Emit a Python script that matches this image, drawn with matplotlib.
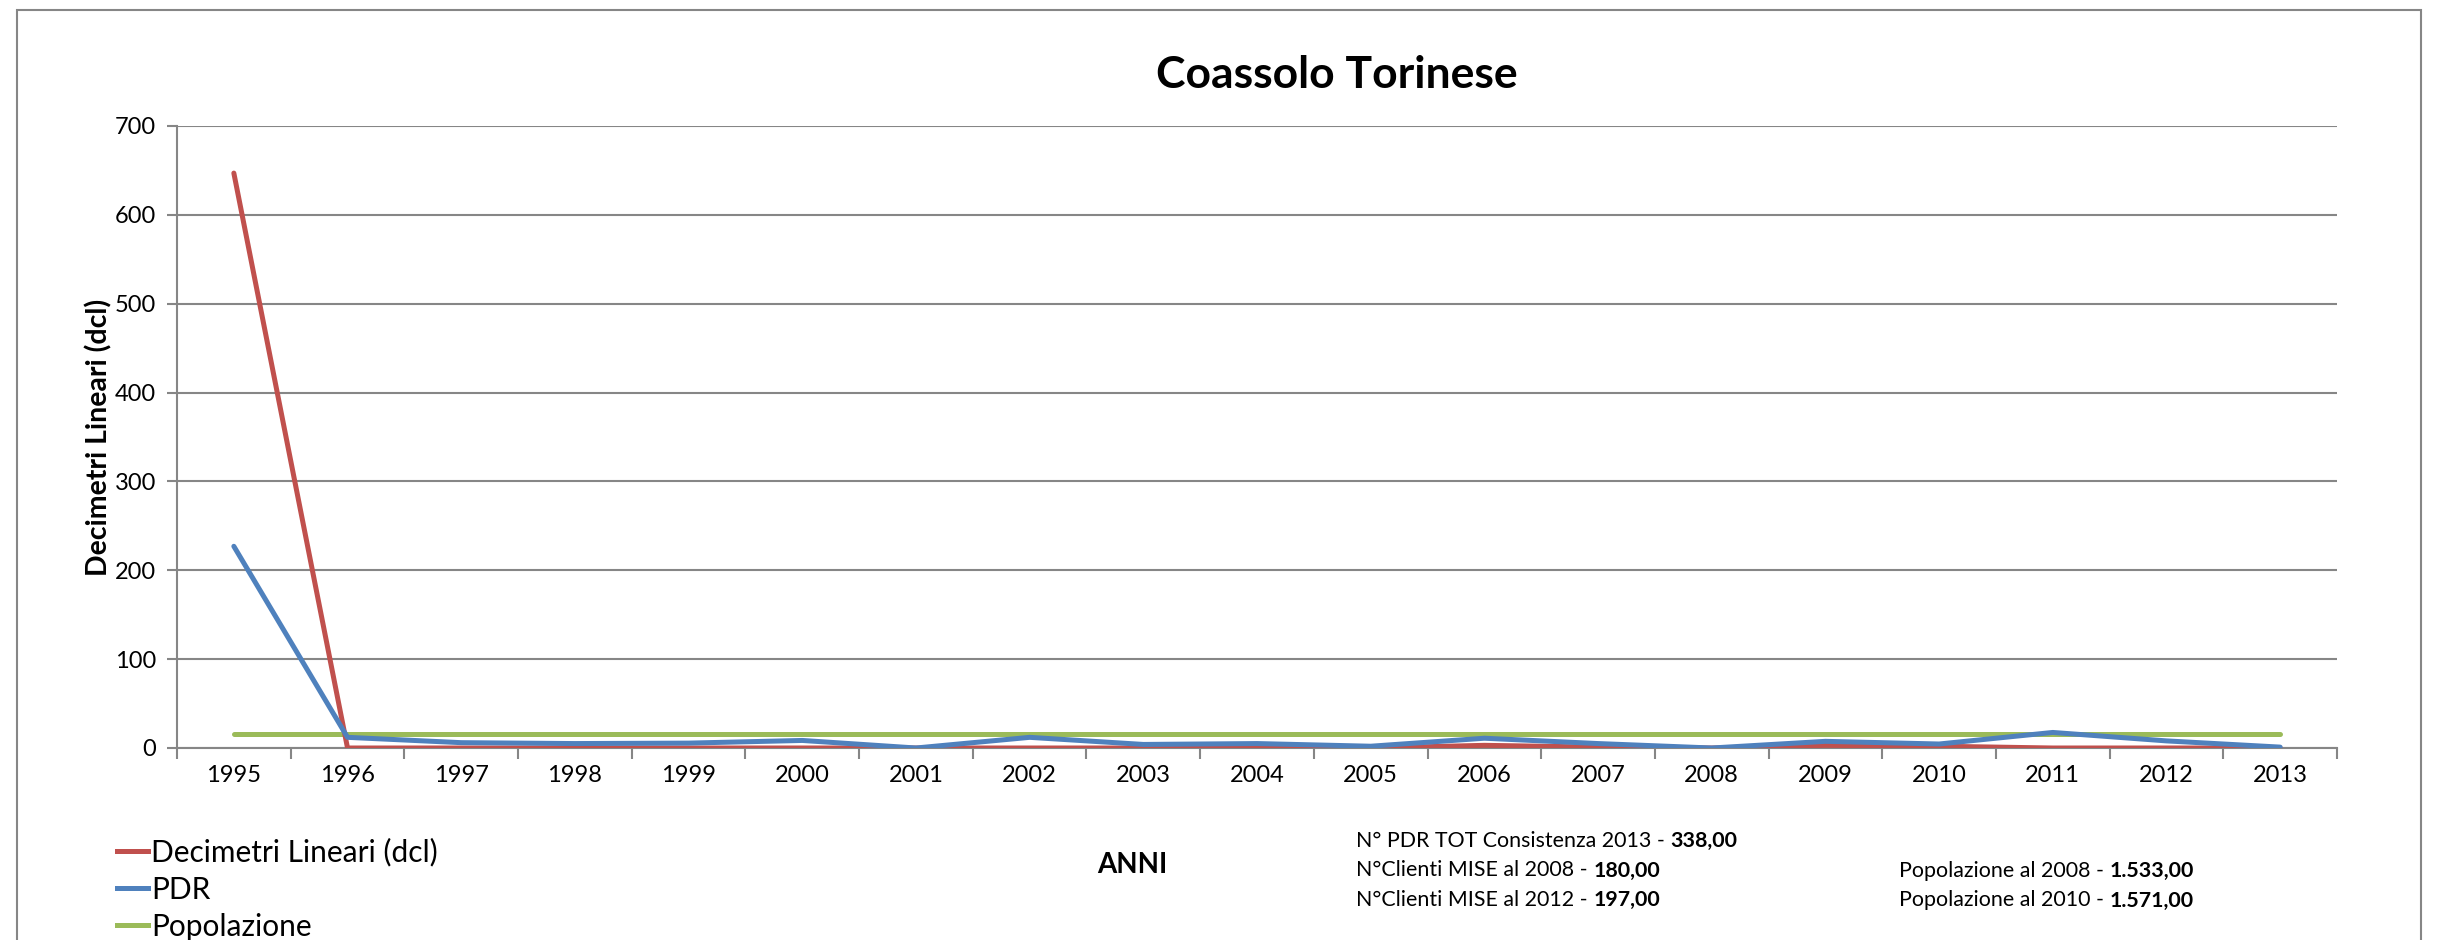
import matplotlib.pyplot as plt
from matplotlib.lines import Line2D
from matplotlib.patches import Rectangle

plt.rcParams['font.family'] = ['Lato', 'DejaVu Sans']

years = [str(y) for y in range(1995, 2014)]
decimetri = [647, 0, 0, 0, 0, 0, 0, 0, 0, 1, 0, 3, 1, 0, 3, 2, 0, 0, 0]
pdr = [227, 12, 6, 5, 5.5, 8.5, 0, 12, 4, 5, 2, 11, 5, 0, 7.5, 4.5, 17.5, 8, 1]
popolazione = [15.4] * 19

info_left = [("N° PDR TOT Consistenza 2013 - ", "338,00"),
             ("N°Clienti MISE al 2008 - ", "180,00"),
             ("N°Clienti MISE al 2012 - ", "197,00")]
info_right = [("Popolazione al 2008 - ", "1.533,00"),
              ("Popolazione al 2010 - ", "1.571,00")]

red = '#C0504D'
blue = '#4F81BD'
green = '#9BBB59'
grey = '#868686'

fig = plt.figure(figsize=(24.38, 9.40), dpi=100)
fig.patches.append(Rectangle((17 / 2438, -0.1), (2421 - 17) / 2438, 1.1 - 10 / 940,
                             transform=fig.transFigure, fill=False,
                             edgecolor=grey, linewidth=1.5))

ax = fig.add_axes([177 / 2438, 1 - 748 / 940, (2337 - 177) / 2438, (748 - 126) / 940])
x = range(len(years))
ax.plot(x, decimetri, color=red, lw=3.6, solid_capstyle='round', zorder=3)
ax.plot(x, pdr, color=blue, lw=3.6, solid_capstyle='round', solid_joinstyle='round', zorder=4)
ax.plot(x, popolazione, color=green, lw=3.6, solid_capstyle='round', zorder=2)

ax.set_xlim(-0.5, len(years) - 0.5)
ax.set_ylim(0, 700)
ax.set_yticks(range(0, 701, 100))
ax.set_xticks(list(x))
ax.set_xticklabels(years)
ax.set_xticks([i - 0.5 for i in range(len(years) + 1)], minor=True)
ax.tick_params(axis='x', which='major', length=0, labelsize=17, pad=12)
ax.tick_params(axis='x', which='minor', length=8, width=1.5, color=grey, direction='out')
ax.tick_params(axis='y', length=7, width=1.5, color=grey, labelsize=17, pad=8)
ax.yaxis.grid(True, color=grey, lw=1.5)
ax.set_axisbelow(True)
for s in ['top', 'right']:
    ax.spines[s].set_visible(False)
for s in ['left', 'bottom']:
    ax.spines[s].set_color(grey)
    ax.spines[s].set_linewidth(1.5)

ax.set_ylabel("Decimetri Lineari (dcl)", fontsize=20.5, fontweight='bold')
ax.yaxis.set_label_coords(-0.030, 0.5)
fig.text(1337 / 2438, 1 - 75 / 940, "Coassolo Torinese", fontsize=32, fontweight='bold',
         ha='center', va='center')
fig.text(1132 / 2438, 1 - 865 / 940, "ANNI", fontsize=20, fontweight='bold',
         ha='center', va='center')

handles = [Line2D([], [], color=red, lw=3.6),
           Line2D([], [], color=blue, lw=3.6),
           Line2D([], [], color=green, lw=3.6)]
fig.legend(handles, ["Decimetri Lineari (dcl)", "PDR", "Popolazione"],
           loc='upper left', bbox_to_anchor=(117 / 2438, 1 - 838 / 940),
           frameon=False, fontsize=21.5, handlelength=1.05, handletextpad=0.1,
           labelspacing=0.3, borderaxespad=0, borderpad=0)

fig.canvas.draw()
renderer = fig.canvas.get_renderer()


def two_part(xpx, ypx, normal, bold):
    t = fig.text(xpx / 2438, 1 - ypx / 940, normal, fontsize=15.4, va='center', ha='left')
    bb = t.get_window_extent(renderer)
    fig.text(bb.x1 / 2438, 1 - ypx / 940, bold, fontsize=15.4, fontweight='bold',
             va='center', ha='left')


for i, (a, b) in enumerate(info_left):
    two_part(1356, 841 + i * 29.5, a, b)
for i, (a, b) in enumerate(info_right):
    two_part(1899, 871 + i * 29.5, a, b)

fig.savefig("out.png", dpi=100)
